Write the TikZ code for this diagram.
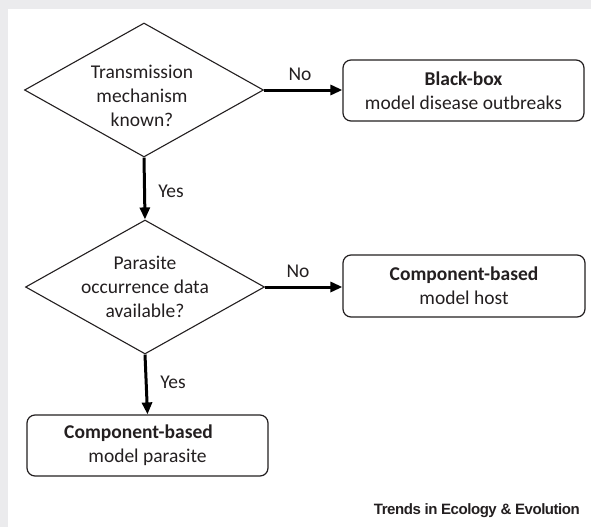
\documentclass[tikz,border=0pt]{standalone}
\usepackage{fontspec}
\setmainfont{Carlito}
\newfontfamily\footerfont[LetterSpace=-3]{Liberation Sans}
\usetikzlibrary{shapes.geometric,arrows.meta}
\definecolor{ink}{HTML}{231F20}
\definecolor{framegrey}{HTML}{EBEBED}
\begin{document}
\begin{tikzpicture}[x=1pt,y=-1pt,
  decision/.style={draw=ink, line width=1.1pt, diamond, inner sep=0pt,
    minimum width=239pt, minimum height=134pt},
  outcome/.style={draw=ink, line width=1.2pt, rounded corners=8pt,
    minimum width=241pt, minimum height=61pt, inner sep=0pt,
    align=center, text=ink, font=\fontsize{19.5}{24}\selectfont},
  lbl/.style={text=ink, font=\fontsize{19.5}{24}\selectfont, inner sep=0pt},
  flow/.style={draw=black, line width=3pt, -{Triangle[length=12pt,width=10pt]}}]
\fill[framegrey] (0,0) rectangle (591,527);
\fill[white] (8,9) rectangle (591,527);
\useasboundingbox (0,0) rectangle (591,527);

\node[decision] (d1) at (144,90) {};
\node[lbl, align=center] (t1) at (142,96) {Transmission\\mechanism\\known?};
\node[decision] (d2) at (145,287) {};
\node[lbl, align=center] (t2) at (145,287) {Parasite\\occurrence data\\available?};

\node[outcome] (b1) at (463.5,90.5) {\textbf{Black-box}\\model disease outbreaks};
\node[outcome, minimum width=242pt, minimum height=62pt] (b2) at (464,286) {\textbf{Component-based}\\model host};
\node[outcome] (b3) at (147.5,445.5) {\textbf{Component-based}\hspace*{18pt}\\model parasite};

\draw[flow] (d1.south) -- (d2.north);
\draw[flow] (d2.south) -- (b3.north);
\draw[flow] (d1.east) -- (d1.east -| b1.west);
\draw[flow] (d2.east) -- (d2.east -| b2.west);

\node[lbl] (no1) at (300,74) {No};
\node[lbl] (no2) at (298,271) {No};
\node[lbl] (yes1) at (171,191) {Yes};
\node[lbl] (yes2) at (173,382) {Yes};

\node[anchor=east, inner sep=0pt, text=ink, font=\footerfont\bfseries\fontsize{15}{17}\selectfont] (src) at (580,511) {Trends in Ecology \& Evolution};
\end{tikzpicture}
\end{document}
